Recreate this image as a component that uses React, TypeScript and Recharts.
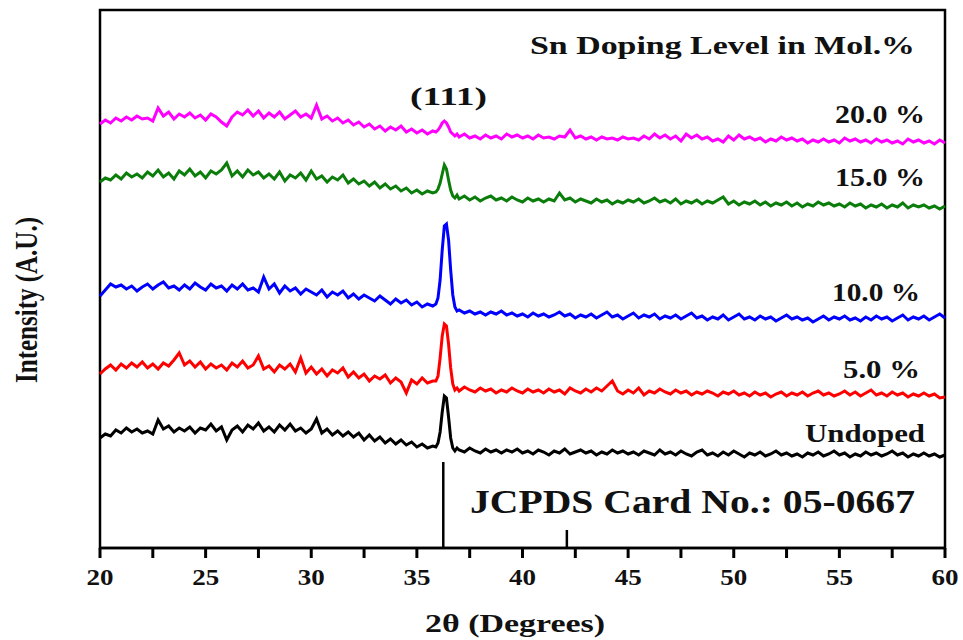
import { LineChart, Line, XAxis, YAxis, ReferenceArea, ReferenceLine, Customized } from 'recharts';

// 2θ sampling: 0.25° steps, with a finer block around the (111) reflection
const PEAK_THETA = [35.9, 36.0, 36.1, 36.2, 36.3, 36.4, 36.5, 36.6, 36.7, 36.8, 36.9];

const grid = (start: number, count: number) => Array.from({ length: count }, (_, i) => start + i * 0.25);

const THETA = [...grid(20, 64), ...PEAK_THETA, ...grid(37, 93)];

// intensities (arbitrary units, curves already offset as in the figure)
const SN_20 = [
    424, 428, 425, 430, 427, 431, 428, 432,
    429, 430, 427, 440, 432, 436, 429, 434,
    431, 435, 430, 433, 428, 434, 431, 426,
    422, 431, 436, 433, 438, 432, 437, 430,
    435, 431, 436, 429, 433, 437, 431, 434,
    430, 443, 429, 432, 427, 430, 425, 428,
    423, 426, 421, 424, 419, 422, 417, 421,
    418, 422, 416, 419, 415, 418, 414, 417,
    416, 418, 421, 425, 427, 425, 421, 416, 414, 412, 414,
    411, 414, 410, 412, 409, 413, 410, 412,
    409, 414, 411, 413, 410, 412, 409, 413,
    410, 411, 409, 412, 411, 418, 410, 412,
    409, 411, 408, 411, 409, 410, 408, 411,
    409, 410, 408, 412, 409, 414, 410, 413,
    409, 412, 407, 414, 410, 413, 409, 411,
    407, 409, 406, 412, 408, 413, 409, 411,
    408, 410, 406, 409, 407, 411, 408, 410,
    407, 409, 405, 408, 406, 409, 406, 408,
    405, 410, 407, 409, 406, 408, 405, 409,
    406, 408, 405, 407, 404, 409, 406, 408,
    405, 407, 404, 408, 405,
];

const SN_15 = [
    366, 370, 368, 373, 369, 375, 371, 374,
    370, 376, 372, 378, 371, 375, 369, 377,
    373, 379, 372, 376, 370, 377, 374, 378,
    385, 372, 377, 371, 378, 373, 376, 370,
    374, 369, 376, 367, 373, 370, 375, 368,
    377, 369, 372, 366, 371, 368, 373, 365,
    369, 364, 367, 362, 366, 360, 364, 359,
    362, 357, 360, 355, 358, 354, 357, 355,
    356, 359, 365, 374, 383, 379, 368, 358, 352, 350, 353,
    349, 352, 348, 351, 347, 350, 352, 348,
    350, 347, 351, 348, 346, 350, 347, 349,
    346, 349, 347, 355, 348, 350, 346, 349,
    347, 345, 349, 346, 348, 344, 347, 345,
    348, 346, 349, 345, 347, 350, 346, 348,
    345, 349, 344, 347, 345, 348, 344, 347,
    345, 348, 351, 344, 347, 343, 346, 344,
    347, 343, 346, 342, 345, 343, 346, 342,
    345, 341, 344, 342, 346, 343, 345, 342,
    344, 341, 345, 342, 344, 340, 343, 341,
    344, 340, 343, 341, 345, 340, 343, 341,
    343, 340, 342, 339, 342,
];

const SN_10 = [
    252, 258, 264, 261, 263, 259, 262, 257,
    261, 264, 259, 263, 266, 260, 262, 258,
    263, 259, 265, 261, 258, 264, 260, 262,
    257, 263, 259, 264, 258, 260, 256, 271,
    259, 264, 255, 262, 257, 260, 254, 259,
    256, 253, 258, 251, 256, 253, 257, 250,
    254, 249, 253, 250, 247, 252, 248, 244,
    249, 245, 248, 243, 246, 241, 244, 242,
    244, 250, 268, 298, 322, 324, 308, 278, 253, 241, 237,
    238, 235, 237, 234, 236, 233, 236, 234,
    237, 233, 235, 232, 234, 231, 235, 232,
    234, 231, 233, 236, 232, 234, 230, 233,
    231, 234, 230, 233, 236, 231, 233, 229,
    232, 235, 230, 233, 231, 234, 229, 232,
    230, 233, 229, 232, 235, 230, 232, 228,
    231, 229, 233, 228, 231, 234, 229, 231,
    228, 232, 229, 231, 227, 230, 233, 229,
    231, 228, 230, 226, 229, 232, 228, 231,
    229, 232, 228, 230, 227, 231, 228, 232,
    229, 231, 227, 230, 233, 228, 231, 229,
    232, 228, 231, 234, 230,
];

const SN_5 = [
    174, 179, 183, 178, 184, 180, 185, 181,
    186, 180, 184, 179, 185, 182, 188, 195,
    183, 187, 181, 186, 179, 184, 180, 183,
    178, 185, 181, 187, 180, 183, 192, 179,
    182, 176, 183, 179, 184, 176, 190, 175,
    181, 174, 179, 172, 178, 175, 180, 171,
    176, 170, 174, 167, 172, 169, 173, 165,
    170, 166, 155, 168, 164, 170, 165, 167,
    167, 172, 190, 212, 224, 222, 204, 180, 164, 158, 160,
    157, 161, 158, 156, 160, 157, 159, 155,
    158, 156, 160, 157, 155, 159, 156, 158,
    155, 159, 156, 158, 154, 160, 157, 155,
    159, 156, 160, 157, 162, 167, 157, 154,
    158, 155, 160, 153, 157, 155, 159, 156,
    154, 158, 155, 157, 153, 156, 154, 157,
    155, 152, 156, 154, 157, 153, 155, 152,
    156, 153, 155, 151, 154, 156, 152, 155,
    153, 156, 152, 155, 157, 153, 155, 152,
    154, 157, 153, 156, 152, 155, 158, 153,
    155, 152, 156, 153, 155, 151, 154, 152,
    155, 152, 154, 150, 151,
];

const UNDOPED = [
    110, 114, 112, 118, 115, 120, 116, 119,
    115, 117, 114, 128, 119, 122, 116, 120,
    117, 121, 115, 120, 118, 124, 117, 121,
    108, 118, 122, 116, 123, 119, 125, 117,
    121, 116, 123, 118, 124, 117, 120, 115,
    119, 129, 115, 119, 113, 117, 112, 116,
    111, 115, 108, 113, 107, 111, 105, 109,
    104, 108, 103, 106, 101, 104, 100, 102,
    101, 105, 116, 136, 152, 150, 131, 110, 100, 97, 100,
    98, 96, 100, 97, 95, 99, 96, 98,
    95, 98, 96, 99, 95, 97, 94, 98,
    96, 93, 97, 95, 99, 94, 96, 98,
    95, 97, 93, 96, 94, 98, 95, 97,
    94, 96, 93, 97, 95, 93, 98, 94,
    96, 93, 97, 94, 92, 96, 98, 93,
    95, 92, 96, 93, 97, 94, 91, 95,
    93, 96, 92, 94, 97, 93, 95, 92,
    94, 91, 95, 93, 96, 92, 94, 97,
    93, 95, 91, 94, 92, 96, 93, 95,
    92, 94, 97, 93, 95, 91, 94, 92,
    95, 92, 94, 91, 93,
];

// JCPDS 05-0667 reference sticks
const JCPDS_THETA = [36.25, 42.1];
const JCPDS_INTENSITY = [86, 18];

const X_TICKS = [20, 22.5, 25, 27.5, 30, 32.5, 35, 37.5, 40, 42.5, 45, 47.5, 50, 52.5, 55, 57.5, 60];

const SERIES = [
    { key: 'undoped', values: UNDOPED, color: '#000000' },
    { key: 'sn5', values: SN_5, color: '#ff0000' },
    { key: 'sn10', values: SN_10, color: '#0000ff' },
    { key: 'sn15', values: SN_15, color: '#0a7d0a' },
    { key: 'sn20', values: SN_20, color: '#ff00ff' },
];

const data = THETA.map((theta, i) => {
    const row: any = { theta };
    SERIES.forEach((s) => { row[s.key] = s.values[i]; });
    return row;
});

const FONT = "'Liberation Serif', 'Times New Roman', serif";

// only whole 5° ticks get a label
const AxisTick = ({ x, y, payload }: any) => {
    if (payload.value % 5 !== 0) return <g />;
    return (
        <text x={x} y={y + 27} textAnchor="middle" fontFamily={FONT} fontWeight="bold"
            fontSize={23} fill="#111" textLength={27} lengthAdjust="spacingAndGlyphs">
            {payload.value}
        </text>
    );
};

const Annotations = () => {
    const txt = (x: number, y: number, w: number, size: number, s: string) => (
        <text key={s} x={x} y={y} fontFamily={FONT} fontWeight="bold" fontSize={size} fill="#111"
            textLength={w} lengthAdjust="spacingAndGlyphs">{s}</text>
    );
    return (
        <g>
            {txt(530, 54, 385, 25, 'Sn Doping Level in Mol.%')}
            {txt(410, 105, 77, 26, '(111)')}
            {txt(835, 123, 90, 25, '20.0 %')}
            {txt(835, 186, 90, 25, '15.0 %')}
            {txt(832, 301, 88, 25, '10.0 %')}
            {txt(843, 378, 77, 25, '5.0 %')}
            {txt(805, 442, 120, 25, 'Undoped')}
            {txt(470, 513, 445, 34, 'JCPDS Card No.: 05-0667')}
            <text x={515} y={632} textAnchor="middle" fontFamily={FONT} fontWeight="bold" fontSize={25}
                fill="#111" textLength={180} lengthAdjust="spacingAndGlyphs">2θ (Degrees)</text>
            <text transform="translate(37,300) rotate(-90) scale(1,1.3)" textAnchor="middle" fontFamily={FONT}
                fontWeight="bold" fontSize={25} fill="#111">Intensity (A.U.)</text>
        </g>
    );
};

export default function App() {
    return (
        <div style={{ position: 'absolute', left: 0, top: 0, width: 963, height: 640, background: '#fff' }}>
            <LineChart width={963} height={640} data={data} margin={{ top: 10, right: 18, bottom: 0, left: 0 }}>
                <XAxis dataKey="theta" type="number" domain={[20, 60]} ticks={X_TICKS} interval={0}
                    height={92} tickSize={10} tickMargin={0}
                    tickLine={{ stroke: '#000', strokeWidth: 3 }}
                    axisLine={{ stroke: '#000', strokeWidth: 2.5 }} tick={<AxisTick />} />
                <YAxis type="number" domain={[0, 538]} width={100} tick={false} tickLine={false} axisLine={false} />
                <ReferenceArea x1={20} x2={60} y1={0} y2={538} fill="none" stroke="#000" strokeWidth={2.5}
                    ifOverflow="visible" />
                {JCPDS_THETA.map((t, i) => (
                    <ReferenceLine key={t} segment={[{ x: t, y: 0 }, { x: t, y: JCPDS_INTENSITY[i] }]}
                        stroke="#000" strokeWidth={2.5} />
                ))}
                {SERIES.map((s) => (
                    <Line key={s.key} type="linear" dataKey={s.key} stroke={s.color} strokeWidth={3}
                        dot={false} isAnimationActive={false} />
                ))}
                <Customized component={Annotations} />
            </LineChart>
        </div>
    );
}
